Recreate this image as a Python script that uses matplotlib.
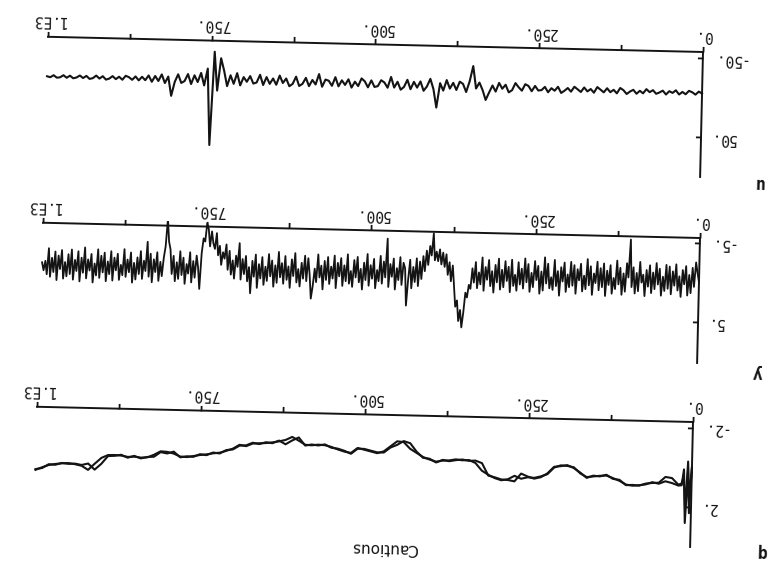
import matplotlib
matplotlib.use('Agg')
import matplotlib.pyplot as plt
import numpy as np
from matplotlib.transforms import Affine2D
import mpl_toolkits.axisartist.floating_axes as floating_axes
from mpl_toolkits.axisartist.grid_finder import FixedLocator, DictFormatter

# sample index for u (every 5th step) and y (every 2.5 steps)
u_steps = np.arange(0, 1001, 5)
y_steps = np.arange(0, 1000.1, 2.5)

u_vals = [
    -5.5, -7.8, -3.9, -6.8, -8.5, -4.1, -6.9, -3.6, -8.8, -5.4,
    -7.5, -3.2, -8.0, -5.6, -3.8, -8.3, -5.7, -9.4, -4.0, -7.1,
    -3.3, -8.2, -5.9, -2.7, -7.4, -10.1, -3.2, -7.6, -4.5, -9.4,
    -4.1, -7.3, -10.6, -3.4, -7.9, -4.8, -9.7, -3.9, -7.2, -10.3,
    -4.0, -8.5, -5.0, -2.1, -9.8, -4.7, -7.8, -2.6, -9.3, -5.1,
    -4.5, -10.2, -3.4, -9.9, -12.1, -3.8, -8.0, -13.2, -4.1, -1.3,
    -10.8, -5.7, -13.0, -1.9, -9.5, -0.5, 9.0, -3.5, -12.8, -5.2,
    -33.5, -14.0, -0.5, -10.6, -13.4, -2.8, -11.7, -4.3, -15.0, -1.6,
    -10.9, 20.0, -3.2, -16.1, -6.4, -0.8, -12.5, -4.6, -11.8, -2.4,
    -14.2, -5.1, -1.5, -11.4, -4.0, -17.3, -3.6, -10.1, -12.9, -5.3,
    -4.2, -12.4, -3.5, -11.0, -14.6, -4.8, -10.3, -2.7, -13.1, -5.9,
    -11.6, -3.9, -15.4, -4.4, -10.7, -12.1, -2.9, -18.8, -5.6, -11.2,
    -3.3, -13.7, -6.0, -3.2, -14.9, -5.7, -2.6, -12.3, -6.5, -15.8,
    -4.1, -11.9, -5.0, -13.5, -3.4, -16.2, -6.4, -4.9, -14.3, -7.0,
    -12.8, -2.2, -17.6, -4.0, -14.7, -0.9, -20.4, -36.0, 5.0, -44.0,
    74.0, -22.5, -1.1, -16.8, -5.2, -13.6, -2.5, -15.0, -6.1, -3.6,
    -14.4, -4.7, 13.0, -11.3, -3.0, -13.8, -5.4, -11.6, -4.2, -12.1,
    -6.0, -10.2, -5.6, -10.5, -6.1, -9.3, -11.0, -5.9, -9.6, -6.5,
    -10.2, -7.0, -5.6, -9.8, -6.7, -10.4, -7.1, -6.0, -9.7, -6.9,
    -10.0, -7.4, -6.3, -9.5, -6.8, -9.9, -7.2, -6.6, -9.6, -7.0, -8.1,
]

y_vals = [
    0.0, -1.2, -2.5, 0.6, -1.8, 1.4, -0.9, 1.7, -2.0, 0.3, -1.5, 1.9, -0.7, 1.1, -2.2, 0.5, -1.3, 1.6, -1.9, 0.9,
    -2.1, 1.2, -0.6, 1.8, -1.6, 0.4, -2.3, 1.0, -1.1, 1.5, -2.0, 0.7, -1.4, 1.9, -0.8, 0.2, -2.4, 1.3, -1.0, 1.6,
    -1.7, 0.8, -5.2, -0.4, -2.2, 1.4, -0.9, 1.8, -1.6, 0.5, -2.5, 1.1, -0.3, 1.7, -1.9, 0.6, -1.2, 2.0, -2.1, 0.9,
    -1.5, 1.3, -2.3, 0.4, -0.8, 1.9, -1.7, 0.7, -2.6, 1.2, -0.5, 1.5, -2.0, 0.1, -1.3, 1.8, -1.8, 0.8, -2.2, 1.0,
    -0.6, 1.6, -2.1, 0.3, -1.5, 2.1, -1.0, 0.9, -2.4, 1.4, -0.2, 1.2, -1.9, 0.6, -2.7, 1.5, -0.9, 1.9, -1.6, 0.2,
    -2.2, 1.1, -0.7, 1.7, -1.8, 0.5, -2.5, 1.3, -1.2, 0.8, -2.0, 1.6, -0.4, 1.0, -2.3, 1.8, -1.4, 0.4, -2.1, 1.2,
    -1.0, 1.5, -2.4, 0.6, -1.6, 1.9, -0.8, 1.1, -2.2, 0.3, -1.3, 1.7, -2.5, 0.9, -0.6, 1.4, -1.9, 0.7, -1.1, 1.5,
    1.0, 2.6, 2.0, 4.5, 6.4, 4.2, 5.6, 3.0, 3.8, 1.2, -1.4, 0.6, -1.8, -0.2, -2.8, -1.2, -3.0, -1.5, -3.4, -1.9,
    -3.1, -2.0, -5.4, -2.6, -3.8, -1.4, -3.2, -0.6, -2.5, 0.4, -1.8, 1.3, -2.2, 0.8, -1.1, 1.6, -2.0, 0.5, 3.8, -0.9,
    -1.6, 1.2, -2.3, 0.6, -0.9, 1.8, -2.1, 0.2, -1.4, 1.5, -4.6, 0.3, -1.7, 1.1, -2.4, 0.8, -0.6, 1.7, -2.0, 0.5,
    -1.2, 1.4, -2.6, 0.7, -1.5, 1.9, -0.7, 1.0, -2.2, 0.4, -1.8, 1.6, -0.4, 1.2, -2.5, 0.9, -1.1, 1.5, -2.0, 0.3,
    -1.4, 1.8, -2.3, 0.6, -0.9, 1.3, -2.1, 0.8, -1.6, 2.0, -1.0, 0.5, -2.4, 1.1, -0.6, 1.6, 3.2, 0.2, -1.9, 1.0,
    -2.2, 0.7, -1.3, 1.7, -0.5, 1.2, -2.5, 0.4, -1.7, 1.9, -0.8, 0.9, -2.1, 1.4, -1.2, 0.6, -2.6, 1.3, -0.9, 1.8,
    -1.5, 0.5, -2.3, 1.1, -0.7, 1.6, -1.9, 0.8, -1.0, 2.0, -2.2, 0.6, -1.4, 2.7, -0.6, 1.2, -2.0, 0.3, -1.6, 1.0,
    -3.6, -0.6, -2.0, 0.9, -1.4, 0.4, -2.6, -0.2, -3.4, -1.6, -2.4, -0.8, -3.2, -2.0, -4.8, -2.8, -3.5, -5.0, -3.1, -5.3,
    -6.0, -3.7, -4.1, -2.2, 2.3, -0.4, -1.9, 0.9, -1.2, 1.5, -2.3, 0.4, -0.8, 1.7, -1.6, 0.6, -2.4, 1.1, -1.0, 1.4,
    -1.8, 0.5, -2.6, -3.6, -6.5, -3.0, -1.5, 0.8, -1.0, 1.4, -2.2, 0.3, -1.3, 1.6, -2.0, 0.9, -3.5, 0.2, -1.1, 1.2,
    -2.3, 0.6, -1.5, 1.3, -0.8, 1.7, -2.1, 0.4, -1.2, 1.0, -2.5, 0.8, -0.5, 1.4, -1.9, 0.2, -1.4, 1.5, -2.2, 0.7,
    -0.9, 1.6, -2.0, 0.5, -1.6, 1.2, -2.4, 0.9, -0.6, 1.8, -1.8, 0.3, -1.1, 1.3, -2.6, 0.6, -1.3, 1.7, -2.1, 0.4,
    -1.0, 1.5, -2.3, 0.8, -1.7, 1.1, -0.7, 1.4, -2.2, 0.2, -1.5, 1.6, -2.0, 0.6, -1.2, 1.2, -2.4, 0.9, -0.8, 0.4,
    -0.6,
]

# parameter estimates, two traces
q_steps = [0, 3, 6, 9, 12, 15] + list(range(20, 1001, 10))
q_est1 = [
    0.0, 2.3, 0.2, 2.8, 0.1, 0.9,
    0.92, 0.8, 0.72, 0.85, 0.78, 0.9, 0.95, 0.98, 0.93,
    0.75, 0.62, 0.5, 0.52, 0.56, 0.6, 0.42, 0.12, 0.06, 0.04,
    0.16, 0.5, 0.62, 0.7, 0.68, 0.76, 0.62, 0.8, 0.86, 0.76,
    0.6, 0.4, 0.02, -0.12, -0.1, -0.14, -0.08, -0.06, 0.0, -0.1,
    -0.22, -0.42, -0.62, -0.95, -0.98, -0.72, -0.46, -0.36, -0.44, -0.52,
    -0.6, -0.34, -0.4, -0.5, -0.62, -0.7, -0.72, -0.68, -0.7, -0.9,
    -1.08, -0.92, -0.84, -0.78, -0.74, -0.72, -0.7, -0.56, -0.62, -0.42,
    -0.3, -0.2, -0.16, -0.1, -0.06, 0.0, 0.06, 0.04, -0.1, -0.18,
    -0.2, -0.02, 0.12, 0.14, 0.1, 0.12, 0.06, 0.04, 0.05, 0.2,
    0.5, 0.82, 0.62, 0.55, 0.5, 0.52, 0.56, 0.62, 0.74, 0.88,
]
q_est2 = [
    0.0, 1.6, -0.3, 2.2, 0.4, 0.8,
    0.88, 0.55, 0.5, 0.8, 0.82, 0.86, 0.97, 0.94, 0.96,
    0.7, 0.66, 0.46, 0.55, 0.52, 0.64, 0.38, 0.16, 0.02, 0.08,
    0.12, 0.46, 0.66, 0.74, 0.64, 0.5, 0.9, 0.84, 0.82, 0.72,
    0.64, 0.02, -0.1, -0.08, -0.14, -0.1, -0.04, -0.1, 0.04, -0.14,
    -0.18, -0.48, -0.9, -1.0, -0.8, -0.66, -0.4, -0.4, -0.48, -0.56,
    -0.56, -0.3, -0.44, -0.54, -0.58, -0.74, -0.68, -0.72, -0.66, -1.06,
    -0.9, -0.7, -0.88, -0.74, -0.78, -0.68, -0.74, -0.6, -0.58, -0.38,
    -0.34, -0.16, -0.2, -0.06, -0.1, 0.04, 0.02, 0.08, -0.2, -0.1,
    -0.16, 0.08, 0.1, 0.18, 0.06, 0.16, 0.02, 0.08, 0.1, 0.5,
    0.8, 0.5, 0.58, 0.52, 0.54, 0.5, 0.6, 0.58, 0.78, 0.84,
]

panel_names = ['u', 'y', 'q']
y_limits = [(-58, 100), (-5.6, 10.2), (-2.3, 4.0)]
y_ticks = [[-50, 50], [-5, 5], [-2, 2]]
y_ticklabels = [['-50.', '50.'], ['-5.', '5.'], ['-2.', '2.']]
x_ticks = [0, 250, 500, 750, 1000]
x_ticklabels = ['0.', '250.', '500.', '750.', '1.E3']
x_minor = [125, 375, 625, 875]

mono = 'DejaVu Sans Mono'
ink = '#141414'
W_PX, H_PX = 774, 573

# the scanned page is upside down and a little skewed:
# every panel is the upright plot turned by this angle
tilt = 178.67

# origin corner (t=0, ymin) in image pixels, x-axis length, y-axis length
frames = [((703, 52), 655.2, 125), ((700, 238), 657.2, 125), ((693, 422), 656.2, 125)]

fig = plt.figure(figsize=(7.74, 5.73), dpi=100)


def make_panel(corner, length, height, lims, yt, ytl):
    vmin, vmax = lims
    tr = (Affine2D().translate(0, -vmin)
          .scale(length / 1000.0, height / (vmax - vmin))
          .rotate_deg(tilt))
    xlocs = sorted(x_ticks + x_minor)
    xfmt = dict(zip(x_ticks, x_ticklabels))
    xfmt.update({v: '' for v in x_minor})
    gh = floating_axes.GridHelperCurveLinear(
        tr, extremes=(0, 1000, vmin, vmax),
        grid_locator1=FixedLocator(xlocs),
        tick_formatter1=DictFormatter(xfmt),
        grid_locator2=FixedLocator(yt),
        tick_formatter2=DictFormatter(dict(zip(yt, ytl))))
    # box around the turned frame (floating axes pad its limits by 2%)
    th = np.deg2rad(180 - tilt)
    bw = length * np.cos(th) + height * np.sin(th)
    bh = height * np.cos(th) + length * np.sin(th)
    cx = corner[0] - bw / 2
    cy = corner[1] - length * np.sin(th) + bh / 2
    w, h = bw * 1.02, bh * 1.02
    rect = [(cx - w / 2) / W_PX, 1 - (cy + h / 2) / H_PX, w / W_PX, h / H_PX]
    ax = fig.add_axes(rect, axes_class=floating_axes.FloatingAxes, grid_helper=gh)
    ax.patch.set_facecolor('none')
    ax.axis['top'].set_visible(False)
    ax.axis['right'].set_visible(False)
    for side in ['bottom', 'left']:
        a = ax.axis[side]
        a.line.set_linewidth(1.4)
        a.line.set_color(ink)
        a.major_ticks.set_ticksize(4)
        a.major_ticks.set_color(ink)
        a.major_ticks.set_markeredgewidth(1.3)
        a.major_ticklabels.set_fontsize(10.5)
        a.major_ticklabels.set_fontfamily(mono)
        a.major_ticklabels.set_color(ink)
    ax.axis['bottom'].major_ticks.set_tick_out(True)
    ax.axis['bottom'].major_ticklabels.set_pad(2.5)
    ax.axis['left'].major_ticklabels.set_pad(6)
    aux = ax.get_aux_axes(tr)
    return ax, aux


panels = [make_panel(c, L, H, lim, yt, ytl)
          for (c, L, H), lim, yt, ytl in zip(frames, y_limits, y_ticks, y_ticklabels)]

panels[0][1].plot(u_steps, u_vals, color=ink, lw=1.5)
panels[1][1].plot(y_steps, y_vals, color=ink, lw=1.3)
panels[2][1].plot(q_steps, q_est1, color=ink, lw=1.5)
panels[2][1].plot(q_steps, q_est2, color=ink, lw=1.5)

# variable names (top-left of each panel in the original, bottom-right here)
name_pos = [(0.980, 0.680), (0.978, 0.349), (0.984, 0.037)]
for name, (px, py) in zip(panel_names, name_pos):
    fig.text(px, py, name, rotation=tilt, ha='center', va='center',
             fontfamily=mono, fontsize=12, fontweight='bold', color=ink)

fig.text(0.497, 0.044, 'Cautious', rotation=tilt, ha='center', va='center',
         fontsize=11, color=ink)

fig.savefig('out.png', dpi=100)
